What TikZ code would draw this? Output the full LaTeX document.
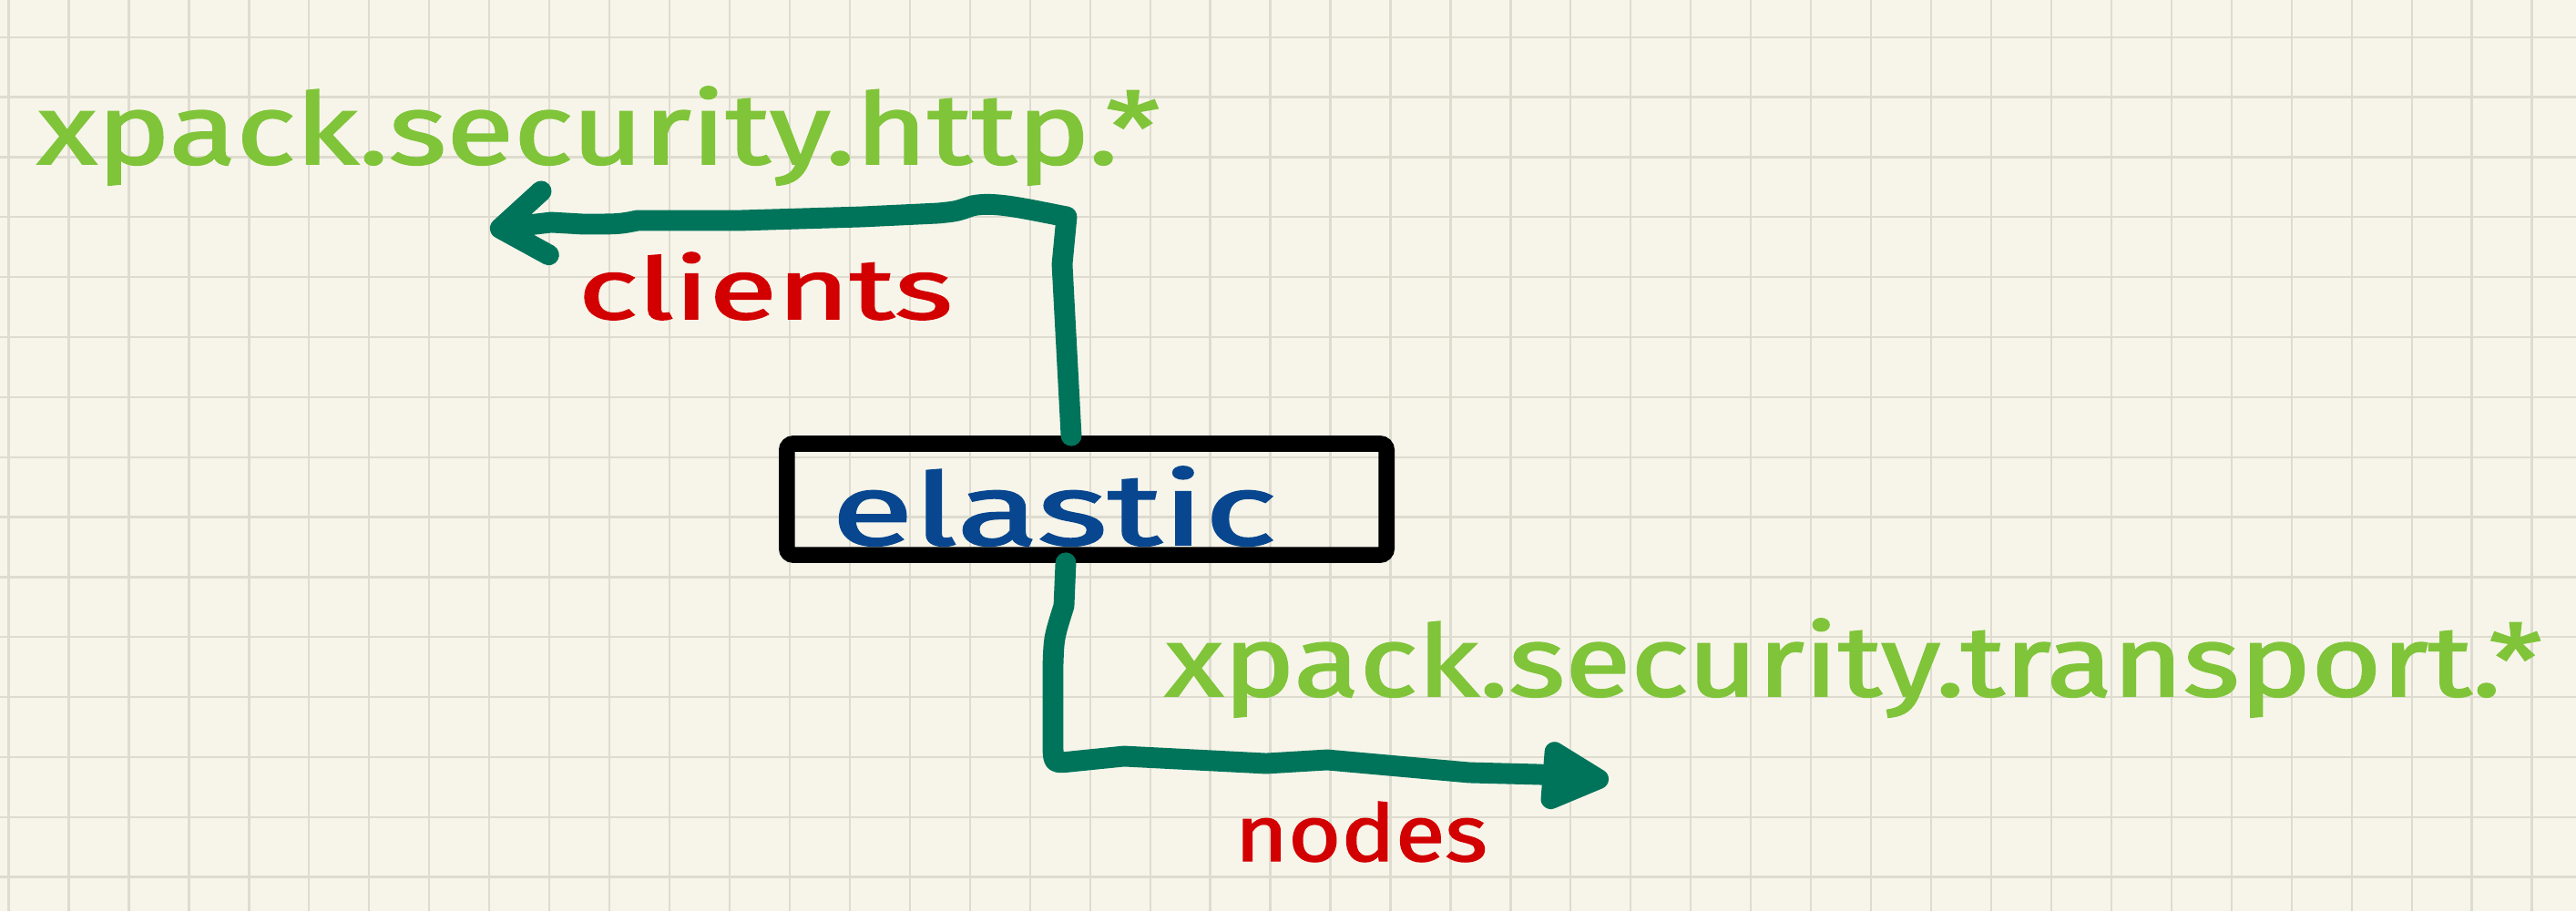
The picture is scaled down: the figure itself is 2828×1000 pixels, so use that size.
\documentclass[tikz,border=0pt]{standalone}
\usepackage{fontspec}
\setmainfont{Fira Sans}
\newfontfamily\handfont[FakeBold=1.6]{Fira Sans}
\usetikzlibrary{arrows.meta,calc}
\definecolor{paper}{HTML}{F7F5EA}
\definecolor{gridc}{HTML}{DEDBCF}
\definecolor{cgreen}{HTML}{80C43A}
\definecolor{cdark}{HTML}{00745A}
\definecolor{cred}{HTML}{D20000}
\definecolor{cblue}{HTML}{08478F}
\tikzset{
  gridline/.style={draw=gridc, line width=0.65pt},
  conn/.style={draw=cdark, line width=6.5pt, line cap=round, line join=round},
  boxstyle/.style={draw=black, line width=5pt, rounded corners=2pt, inner sep=0pt,
    minimum width=6.58cm, minimum height=1.22cm},
  lbl/.style={anchor=base west, inner sep=0pt, font=\handfont}
}
\begin{document}
\begin{tikzpicture}[x=0.01cm, y=-0.01cm]
  \fill[paper] (0,0) rectangle (2828,1000);
  \useasboundingbox (0,0) rectangle (2828,1000);
  % grid
  \foreach \i in {0,...,42} \draw[gridline] ({9.6+65.95*\i},0) -- ({9.6+65.95*\i},1000);
  \foreach \j in {0,...,14} \draw[gridline] (0,{40.7+65.85*\j}) -- (2828,{40.7+65.85*\j});

  % box and labels
  \node[boxstyle] (box) at (1193,548) {};
  \node[lbl, text=cblue] (el) at (912,598) {\resizebox{4.88cm}{0.86cm}{elastic}};
  \node[lbl, text=cgreen] (http) at (40,180) {\resizebox{12.32cm}{0.85cm}{xpack.security.http.*}};
  \node[lbl, text=cred] (clients) at (634,350) {\resizebox{4.11cm}{0.73cm}{clients}};
  \node[lbl, text=cgreen] (transport) at (1278,764) {\resizebox{15.11cm}{0.85cm}{xpack.security.transport.*}};
  \node[lbl, text=cred] (nodes) at (1355,945) {\resizebox{2.77cm}{0.65cm}{nodes}};

  % connectors
  \coordinate (cl) at (538,252);
  \coordinate (nd) at (1766,856);
  \draw[conn, -{Straight Barb[length=14pt,width=20pt,round]}]
    ($(box.north)+(-17,0)$) -- (1166,290) -- (1171,238)
    .. controls (1120,228) and (1090,221) .. (1067,226)
    .. controls (1050,232) .. (1030,234) -- (946,238) -- (812,242) -- (700,242)
    .. controls (680,246) .. (640,246) -- (605,244) -- (cl);
  \draw[conn, -{Triangle[length=25pt,width=23pt,round]}]
    ($(box.south)+(-23,0)$) -- (1168,665) .. controls (1157,700) .. (1156,730)
    -- (1156,815) .. controls (1156,838) .. (1175,836) -- (1234,830) -- (1390,838)
    -- (1457,834) -- (1613,848) -- (1690,850) -- (nd);
\end{tikzpicture}
\end{document}
